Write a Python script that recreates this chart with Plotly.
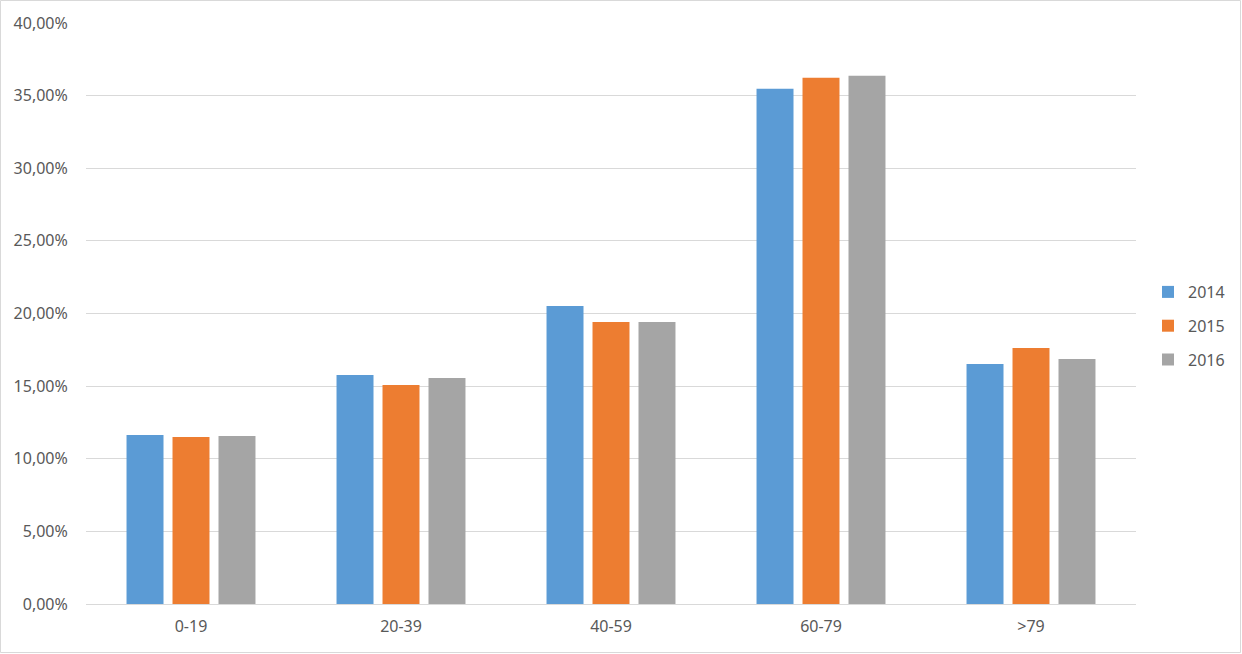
import plotly.graph_objects as go

categories = ["0-19", "20-39", "40-59", "60-79", ">79"]
years = ["2014", "2015", "2016"]
values_2014 = [0.1164, 0.1577, 0.2052, 0.3547, 0.1653]
values_2015 = [0.1150, 0.1508, 0.1942, 0.3623, 0.1763]
values_2016 = [0.1157, 0.1556, 0.1942, 0.3636, 0.1687]
colors = ["#5B9BD5", "#ED7D31", "#A5A5A5"]
series = [values_2014, values_2015, values_2016]

W, H = 1242, 654
L, R, T, B = 86, 106, 23, 50

fig = go.Figure()
for i, (y, vals) in enumerate(zip(years, series)):
    fig.add_trace(go.Bar(
        x=categories, y=vals, name=y, marker_color=colors[i],
        marker_line_width=0, legendgroup=y,
    ))

pw = W - L - R
ph = H - T - B
fig.add_shape(type="rect", xref="paper", yref="paper",
              x0=-(L - 0.5) / pw, x1=1 + (R - 1.5) / pw,
              y0=-(B - 1.5) / ph, y1=1 + (T - 0.5) / ph,
              line=dict(color="#D9D9D9", width=1), layer="below")

fig.update_layout(
    width=W, height=H,
    margin=dict(l=L, r=R, t=T, b=B, pad=0, autoexpand=False),
    paper_bgcolor="white", plot_bgcolor="white",
    barmode="group", bargap=0.343, bargroupgap=0.196,
    separators=",.",
    font=dict(family="Noto Sans, Open Sans, sans-serif", size=16, color="#595959"),
    xaxis=dict(showgrid=False, showline=True, linecolor="#D9D9D9", linewidth=1,
               ticks="outside", ticklen=8, tickcolor="rgba(0,0,0,0)",
               tickfont=dict(size=16, color="#595959")),
    yaxis=dict(range=[0, 0.40], dtick=0.05, tickformat=".2%", showgrid=True,
               gridcolor="#D9D9D9", gridwidth=1, zeroline=False, showline=False,
               ticks="outside", ticklen=14, tickcolor="rgba(0,0,0,0)",
               tickfont=dict(size=16, color="#595959")),
    legend=dict(xref="container", yref="container", x=1148 / W, y=1 - 326 / H,
                xanchor="left", yanchor="middle",
                font=dict(size=16, color="#595959"), tracegroupgap=10,
                itemwidth=30, bgcolor="rgba(0,0,0,0)"),
    showlegend=True,
)

fig.write_html("out.html")
